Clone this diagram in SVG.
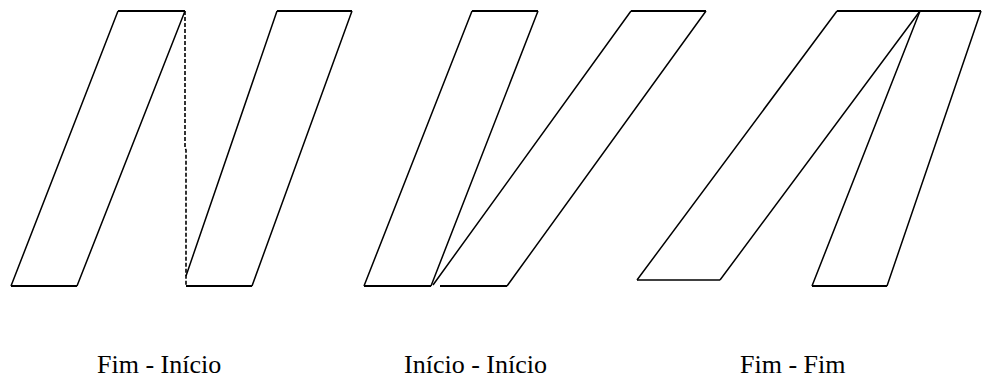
<svg xmlns="http://www.w3.org/2000/svg" width="982" height="378" viewBox="0 0 982 378">
<style>
.s{fill:none;stroke:#000;stroke-width:1.5;stroke-linejoin:miter}
.h{fill:none;stroke:#000;stroke-width:2.2}
.d{fill:none;stroke:#000;stroke-width:1.6;stroke-dasharray:4 2}
.t{font-family:"Liberation Serif","Times New Roman",serif;font-size:26px;fill:#000}
</style>
<rect width="982" height="378" fill="#fff"/>
<g id="fim-inicio">
<g id="fi-a"><path class="s" d="M118,11 L11,286 M185,11 L77,286"/><path class="h" d="M118,11 H185 M11,286 H77"/></g>
<g id="fi-b"><path class="s" d="M186,276 L277,11 M352,11 L252,286"/><path class="h" d="M277,11 H352 M186,286 H252"/></g>
<text class="t" x="97" y="373">Fim - Início</text>
</g>
<g id="connectors"><path class="d" d="M185,11 V148 L186,150 V286"/></g>
<g id="inicio-inicio">
<g id="ii-a"><path class="s" d="M472,11 L364,286 M538,11 L431,286"/><path class="h" d="M472,11 H538 M364,286 H431"/></g>
<g id="ii-b"><path class="s" d="M433,285 L631,11 M706,11 L507,286"/><path class="h" d="M631,11 H706 M440,286 H507"/></g>
<text class="t" x="404" y="373">Início - Início</text>
</g>
<g id="fim-fim">
<g id="ff-a"><path class="s" d="M837,11 L637,280 M920,11 L720,280"/><path class="h" d="M837,11 H920"/><path class="s" d="M637,280 H720" stroke="#333"/></g>
<g id="ff-b"><path class="s" d="M920,11 L812,286 M981,11 L887,286"/><path class="h" d="M920,11 H981 M812,286 H887"/></g>
<text class="t" x="740" y="373">Fim - Fim</text>
</g>
</svg>
